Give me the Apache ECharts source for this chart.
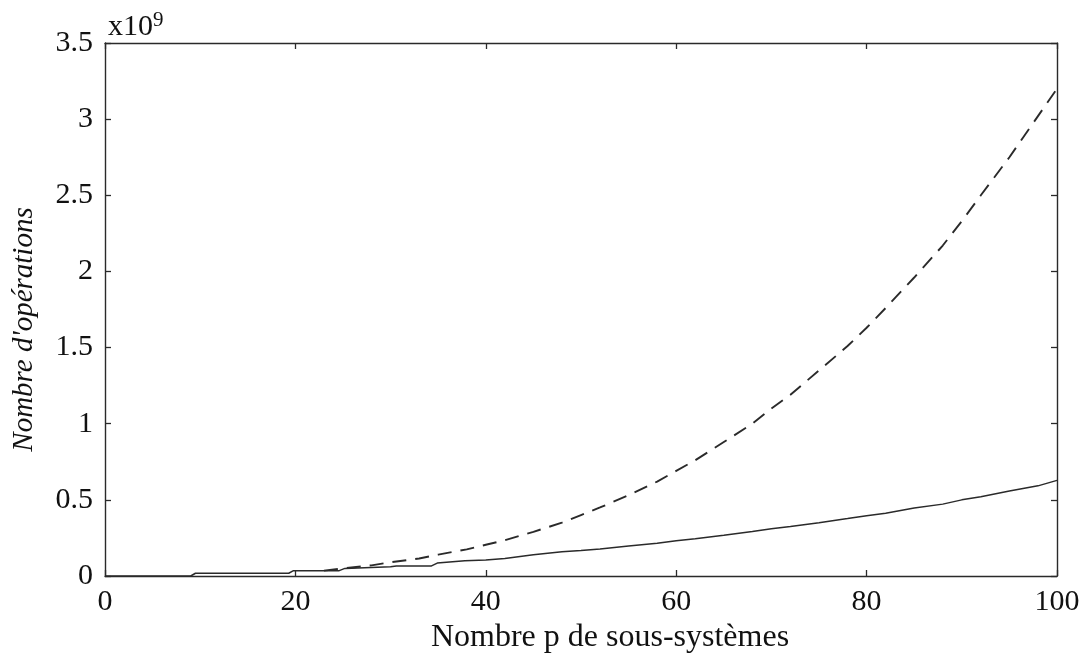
<!DOCTYPE html>
<html>
<head>
<meta charset="utf-8">
<script src="https://cdn.jsdelivr.net/npm/echarts@6/dist/echarts.min.js"></script>
<style>html,body{margin:0;padding:0;background:#fff;}#c{width:1087px;height:653px;}</style>
</head>
<body>
<div id="c"></div>
<script>
// values in units of 1e9 operations
const solidP = [0, 9, 9.5, 19.3, 19.8, 24.6, 25.2, 30, 30.6, 34.3, 34.9, 37.8, 40, 42, 45, 48, 50, 52, 55, 58, 60, 62, 65, 68, 70, 72, 75, 78, 80, 82, 85, 88, 90, 92, 95, 98, 100];
const solidV = [0, 0, 0.018, 0.018, 0.035, 0.035, 0.05, 0.06, 0.066, 0.066, 0.085, 0.1, 0.105, 0.115, 0.14, 0.16, 0.168, 0.178, 0.197, 0.215, 0.232, 0.245, 0.268, 0.292, 0.31, 0.325, 0.35, 0.377, 0.396, 0.412, 0.447, 0.472, 0.5, 0.52, 0.558, 0.592, 0.628];
const dashP = [23, 25, 28, 30, 33, 35, 38, 40, 42, 45, 48, 50, 52, 55, 58, 60, 62, 65, 68, 70, 72, 75, 78, 80, 82, 85, 88, 90, 92, 95, 98, 100];
const dashV = [0.035, 0.05, 0.07, 0.09, 0.115, 0.14, 0.175, 0.205, 0.235, 0.29, 0.35, 0.4, 0.45, 0.53, 0.62, 0.69, 0.76, 0.88, 1.0, 1.1, 1.19, 1.35, 1.51, 1.63, 1.76, 1.96, 2.17, 2.33, 2.5, 2.75, 3.02, 3.2];
const xTicks = [0, 20, 40, 60, 80, 100];
const yTicks = [0, 0.5, 1, 1.5, 2, 2.5, 3, 3.5];
const xName = 'Nombre p de sous-systèmes';
const yName = "Nombre d'opérations";
const scaleLabel = 'x10';
const scaleExp = '9';

const FONT = 'Liberation Serif';
const INK = '#2a2a2a';
const chart = echarts.init(document.getElementById('c'), null, {renderer: 'canvas'});

function yLabel(v) { return String(v); }

const axisLineStyle = {show: true, onZero: false, lineStyle: {color: INK, width: 1.4}};
const tickInside = {show: true, inside: true, length: 6, lineStyle: {color: INK, width: 1.3}};

chart.setOption({
  animation: false,
  backgroundColor: '#fff',
  grid: {left: 105, right: 30, top: 43, bottom: 77, containLabel: false, outerBoundsMode: 'none'},
  title: {
    text: '{b|' + scaleLabel + '}{s|' + scaleExp + '}',
    left: 103, top: 5,
    textStyle: {fontWeight: 'normal', rich: {
      b: {fontFamily: FONT, fontSize: 30, fontWeight: 'normal', color: '#111', verticalAlign: 'bottom', lineHeight: 32},
      s: {fontFamily: FONT, fontSize: 21, fontWeight: 'normal', color: '#111', verticalAlign: 'top', lineHeight: 32, padding: [0,0,9,0]}
    }}
  },
  xAxis: [{
    type: 'value', min: 0, max: 100, interval: 20, position: 'bottom',
    axisLine: axisLineStyle, axisTick: tickInside, splitLine: {show: false},
    axisLabel: {fontFamily: FONT, fontSize: 30, color: '#111', margin: 11,
      formatter: v => xTicks.includes(v) ? String(v) : ''},
    name: xName, nameLocation: 'middle', nameGap: 40,
    nameTextStyle: {fontFamily: FONT, fontSize: 32, color: '#111', padding: [0, 0, 0, 58]}
  }, {
    type: 'value', min: 0, max: 100, interval: 20, position: 'top',
    axisLine: axisLineStyle, axisTick: tickInside, axisLabel: {show: false}, splitLine: {show: false}
  }],
  yAxis: [{
    type: 'value', min: 0, max: 3.5, interval: 0.5, position: 'left',
    axisLine: axisLineStyle, axisTick: tickInside, splitLine: {show: false},
    axisLabel: {fontFamily: FONT, fontSize: 30, color: '#111', margin: 12,
      formatter: v => yTicks.includes(v) ? yLabel(v) : ''},
    name: yName, nameLocation: 'middle', nameGap: 66, nameRotate: 90,
    nameTextStyle: {fontFamily: FONT, fontSize: 29, fontStyle: 'italic', color: '#111', padding: [0, 40, 0, 0]}
  }, {
    type: 'value', min: 0, max: 3.5, interval: 0.5, position: 'right',
    axisLine: axisLineStyle, axisTick: tickInside, axisLabel: {show: false}, splitLine: {show: false}
  }],
  series: [{
    type: 'line', xAxisIndex: 0, yAxisIndex: 0, symbol: 'none', smooth: false,
    data: solidP.map((p, i) => [p, solidV[i]]),
    lineStyle: {color: INK, width: 1.5, type: 'solid'}
  }, {
    type: 'line', xAxisIndex: 0, yAxisIndex: 0, symbol: 'none', smooth: false,
    data: dashP.map((p, i) => [p, dashV[i]]),
    lineStyle: {color: INK, width: 1.9, type: [14, 9]}
  }]
});
</script>
</body>
</html>
